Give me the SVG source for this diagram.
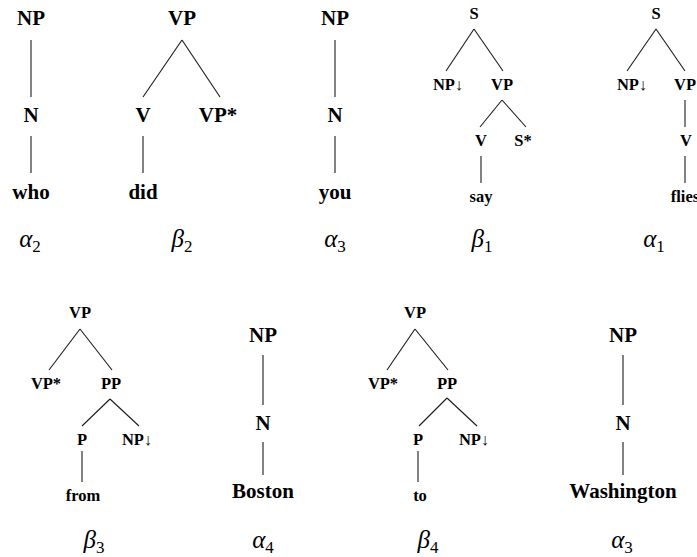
<svg xmlns="http://www.w3.org/2000/svg" width="697" height="557" viewBox="0 0 697 557" font-family="'Liberation Serif', 'Times New Roman', Times, 'DejaVu Serif', serif">
<style>
text{font-family:'Liberation Serif','Times New Roman',Times,'DejaVu Serif',serif;fill:#000;text-anchor:middle}
.b{font-weight:bold;font-size:21px}
.s{font-weight:bold;font-size:16.5px}
.g{font-style:italic;font-size:25px}
.sub{font-style:normal;font-size:17px}
#edges line{stroke:#1a1a1a;stroke-width:1.1}
</style>
<rect width="697" height="557" fill="#fff"/>
<g id="edges">
<line x1="31" y1="40" x2="31" y2="97"/><line x1="31" y1="136" x2="31" y2="173"/>
<line x1="182" y1="40" x2="143" y2="97"/><line x1="182" y1="40" x2="220" y2="97"/><line x1="143" y1="136" x2="143" y2="173"/>
<line x1="335" y1="40" x2="335" y2="97"/><line x1="335" y1="136" x2="335" y2="173"/>
<line x1="474" y1="29" x2="446" y2="71"/><line x1="474" y1="29" x2="503" y2="71"/>
<line x1="502" y1="100" x2="480" y2="127"/><line x1="502" y1="100" x2="526" y2="127"/>
<line x1="481" y1="156" x2="481" y2="183"/>
<line x1="656" y1="29" x2="627" y2="71"/><line x1="656" y1="29" x2="685" y2="71"/>
<line x1="685" y1="100" x2="685" y2="127"/><line x1="685" y1="156" x2="685" y2="183"/>
<line x1="80" y1="329" x2="49" y2="370"/><line x1="80" y1="329" x2="112" y2="370"/>
<line x1="110" y1="399" x2="82" y2="426"/><line x1="110" y1="399" x2="139" y2="426"/>
<line x1="82" y1="451" x2="82" y2="482"/>
<line x1="263" y1="355" x2="263" y2="405"/><line x1="263" y1="442" x2="263" y2="475"/>
<line x1="415" y1="329" x2="387" y2="370"/><line x1="415" y1="329" x2="448" y2="370"/>
<line x1="447" y1="398" x2="419" y2="426"/><line x1="447" y1="398" x2="477" y2="426"/>
<line x1="418" y1="451" x2="418" y2="482"/>
<line x1="623" y1="355" x2="623" y2="405"/><line x1="623" y1="442" x2="623" y2="475"/>
</g>

<g id="t-alpha2">
<g id="a2-np"><text class="b" x="31" y="25">NP</text></g>
<g id="a2-n"><text class="b" x="31" y="122">N</text></g>
<g id="a2-who"><text class="b" x="31" y="199">who</text></g>
<g id="a2-label"><text class="g" x="30" y="247">α<tspan class="sub" dy="5">2</tspan></text></g>
</g>

<g id="t-beta2">
<g id="b2-vp"><text class="b" x="182" y="25">VP</text></g>
<g id="b2-v"><text class="b" x="143" y="122">V</text></g>
<g id="b2-vpstar"><text class="b" x="218" y="122">VP*</text></g>
<g id="b2-did"><text class="b" x="143" y="199">did</text></g>
<g id="b2-label"><text class="g" x="182" y="247">β<tspan class="sub" dy="5">2</tspan></text></g>
</g>

<g id="t-alpha3a">
<g id="a3a-np"><text class="b" x="335" y="25">NP</text></g>
<g id="a3a-n"><text class="b" x="335" y="122">N</text></g>
<g id="a3a-you"><text class="b" x="335" y="199">you</text></g>
<g id="a3a-label"><text class="g" x="335" y="247">α<tspan class="sub" dy="5">3</tspan></text></g>
</g>

<g id="t-beta1">
<g id="b1-s"><text class="s" x="474" y="19">S</text></g>
<g id="b1-np"><text class="s" x="448" y="90">NP↓</text></g>
<g id="b1-vp"><text class="s" x="502" y="90">VP</text></g>
<g id="b1-v"><text class="s" x="481" y="146">V</text></g>
<g id="b1-sstar"><text class="s" x="523" y="146">S*</text></g>
<g id="b1-say"><text class="s" x="481" y="202">say</text></g>
<g id="b1-label"><text class="g" x="482" y="247">β<tspan class="sub" dy="5">1</tspan></text></g>
</g>

<g id="t-alpha1">
<g id="a1-s"><text class="s" x="656" y="19">S</text></g>
<g id="a1-np"><text class="s" x="632" y="90">NP↓</text></g>
<g id="a1-vp"><text class="s" x="685" y="90">VP</text></g>
<g id="a1-v"><text class="s" x="686" y="146">V</text></g>
<g id="a1-flies"><text class="s" x="685" y="202">flies</text></g>
<g id="a1-label"><text class="g" x="654" y="247">α<tspan class="sub" dy="5">1</tspan></text></g>
</g>

<g id="t-beta3">
<g id="b3-vp"><text class="s" x="80" y="318">VP</text></g>
<g id="b3-vpstar"><text class="s" x="46" y="389">VP*</text></g>
<g id="b3-pp"><text class="s" x="111" y="389">PP</text></g>
<g id="b3-p"><text class="s" x="82" y="445">P</text></g>
<g id="b3-np"><text class="s" x="137" y="445">NP↓</text></g>
<g id="b3-from"><text class="s" x="83" y="501">from</text></g>
<g id="b3-label"><text class="g" x="94" y="548">β<tspan class="sub" dy="5">3</tspan></text></g>
</g>

<g id="t-alpha4">
<g id="a4-np"><text class="b" x="263" y="342">NP</text></g>
<g id="a4-n"><text class="b" x="263" y="430">N</text></g>
<g id="a4-boston"><text class="b" x="263" y="498">Boston</text></g>
<g id="a4-label"><text class="g" x="263" y="548">α<tspan class="sub" dy="5">4</tspan></text></g>
</g>

<g id="t-beta4">
<g id="b4-vp"><text class="s" x="415" y="318">VP</text></g>
<g id="b4-vpstar"><text class="s" x="383" y="389">VP*</text></g>
<g id="b4-pp"><text class="s" x="447" y="389">PP</text></g>
<g id="b4-p"><text class="s" x="418" y="445">P</text></g>
<g id="b4-np"><text class="s" x="474" y="445">NP↓</text></g>
<g id="b4-to"><text class="s" x="420" y="501">to</text></g>
<g id="b4-label"><text class="g" x="428" y="548">β<tspan class="sub" dy="5">4</tspan></text></g>
</g>

<g id="t-alpha3b">
<g id="a3b-np"><text class="b" x="623" y="342">NP</text></g>
<g id="a3b-n"><text class="b" x="623" y="430">N</text></g>
<g id="a3b-washington"><text class="b" x="623" y="498">Washington</text></g>
<g id="a3b-label"><text class="g" x="622" y="548">α<tspan class="sub" dy="5">3</tspan></text></g>
</g>
</svg>
